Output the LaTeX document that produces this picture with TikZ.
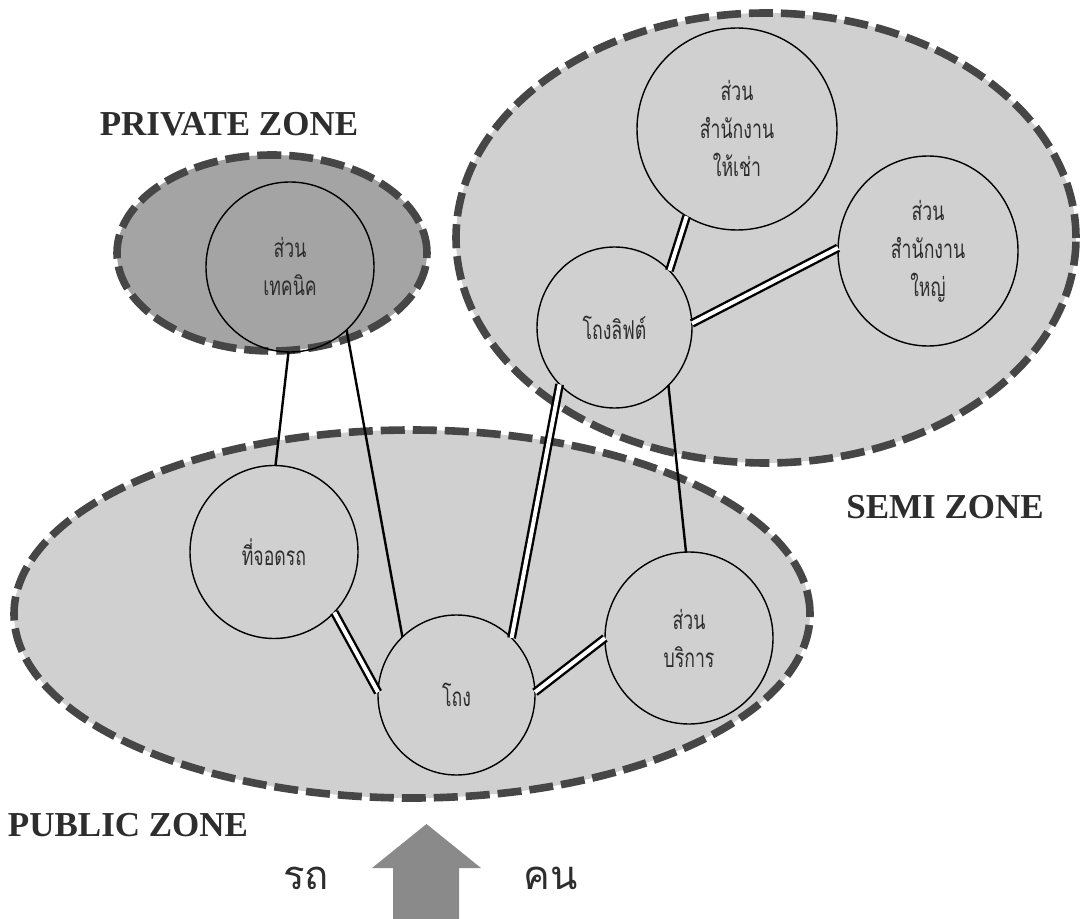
\documentclass[tikz,border=0pt]{standalone}
\usepackage{fontspec}
\usetikzlibrary{shapes.geometric}
\newfontfamily\thaifont[Script=Thai]{Loma}
\newfontfamily\thainarrow[Script=Thai,FakeStretch=0.68]{Loma}
\newfontfamily\labelfont{Liberation Serif}
\definecolor{zonelight}{RGB}{208,208,208}
\definecolor{zonedark}{RGB}{164,164,164}
\definecolor{zoneedge}{RGB}{70,70,70}
\definecolor{arrowgrey}{RGB}{138,138,138}
\definecolor{inktext}{RGB}{45,45,45}
\tikzset{
  room/.style={ellipse, draw=black, line width=0.7pt, inner sep=0pt, outer sep=0pt,
    align=center, text=inktext,
    font=\thainarrow\fontsize{13}{19}\selectfont},
  single/.style={line width=1.2pt},
  dbl/.style={double=white, double distance=2pt, line width=1.2pt},
  zoneborder/.style={draw=zoneedge, line width=3.8pt, dash pattern=on 12pt off 4pt},
  zonelabel/.style={text=inktext, font=\labelfont\bfseries\fontsize{17.5}{20}\selectfont},
  thaiword/.style={text=inktext, font=\thaifont\fontsize{20}{24}\selectfont}
}
\begin{document}
\begin{tikzpicture}[x=0.5pt, y=-0.5pt]
\useasboundingbox (0,0) rectangle (1086,919);
\fill[white] (0,0) rectangle (1086,919);

% zone fills
\fill[zonelight] (766,238) ellipse [x radius=155pt, y radius=112.5pt];
\fill[zonelight] (412,614) ellipse [x radius=199pt, y radius=92pt];
\fill[zonedark] (272,253) ellipse [x radius=77.5pt, y radius=49pt];

% zone borders
\draw[zoneborder] (766,238) ellipse [x radius=155pt, y radius=112.5pt];
\draw[zoneborder] (412,614) ellipse [x radius=199pt, y radius=92pt];
\draw[zoneborder] (272,253) ellipse [x radius=77.5pt, y radius=49pt];

% rooms
\node[room, minimum width=84pt, minimum height=85pt] (tech) at (290,267) {ส่วน\\เทคนิค};
\node[room, minimum width=84pt, minimum height=86.5pt] (park) at (274,552) {ที่จอดรถ};
\node[room, minimum width=78.5pt, minimum height=80pt] (hall) at (456.5,695) {โถง};
\node[room, minimum width=84pt, minimum height=86pt] (service) at (689,638) {ส่วน\\บริการ};
\node[room, minimum width=77.5pt, minimum height=80.5pt] (lift) at (614.5,327.5) {โถงลิฟต์};
\node[room, minimum width=100pt, minimum height=101pt] (rent) at (737,129) {ส่วน\\สำนักงาน\\ให้เช่า};
\node[room, minimum width=90pt, minimum height=95pt] (office) at (928,251) {ส่วน\\สำนักงาน\\ใหญ่};

% links
\draw[single] (tech.269) -- (park.89);
\draw[single] (tech.-48) -- (hall.133);
\draw[dbl] (park.-45) -- (hall.178);
\draw[dbl] (hall.46) -- (lift.226.5);
\draw[dbl] (hall.2) -- (service.180);
\draw[single] (lift.-47) -- (service.92);
\draw[dbl] (lift.46) -- (rent.240);
\draw[dbl] (lift.3.3) -- (office.178.7);

% zone labels
\node[zonelabel] (privlabel) at (229,124) {PRIVATE ZONE};
\node[zonelabel] (semilabel) at (945,507) {SEMI ZONE};
\node[zonelabel] (publabel) at (128,825) {PUBLIC ZONE};

% entrance arrow
\fill[arrowgrey] (393,919) -- (393,868) -- (372,868) -- (426.5,824) -- (481,868)
  -- (459,868) -- (459,919) -- cycle;
\node[thaiword] (car) at (306,878) {รถ};
\node[thaiword] (people) at (551,878) {คน};
\end{tikzpicture}
\end{document}
